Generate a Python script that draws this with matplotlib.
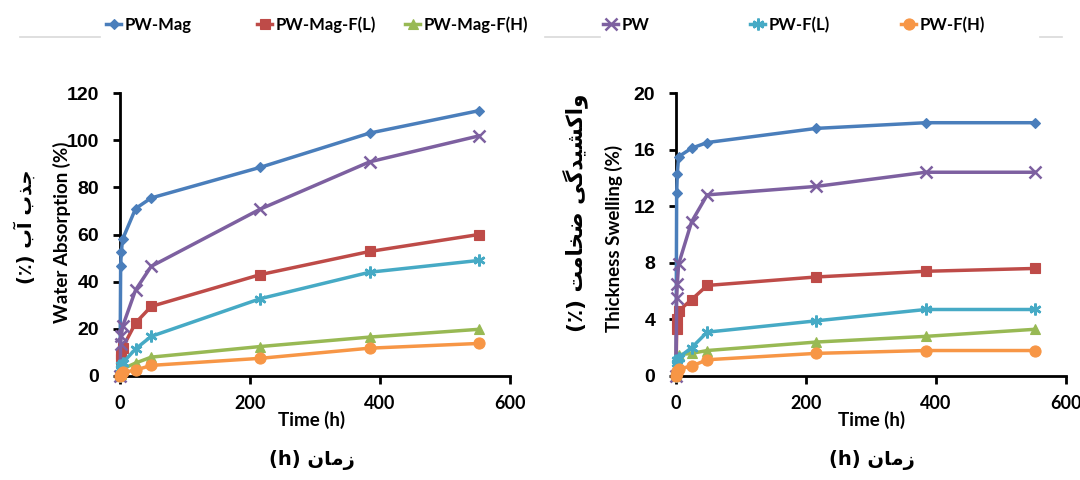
import numpy as np
import matplotlib
matplotlib.use("Agg")
import matplotlib.pyplot as plt
from matplotlib.lines import Line2D

# data
times = [0, 1, 2, 4, 24, 48, 216, 384, 552]
series_names = ["PW-Mag", "PW-Mag-F(L)", "PW-Mag-F(H)", "PW", "PW-F(L)", "PW-F(H)"]

# water absorption (%)
wa_pw_mag = [0, 46.8, 52.5, 58.0, 71.0, 75.5, 88.5, 103.0, 112.5]
wa_pw_mag_fl = [0, 7.0, 9.5, 12.0, 22.5, 29.5, 43.0, 52.8, 60.0]
wa_pw_mag_fh = [0, 1.0, 2.0, 3.0, 5.5, 8.0, 12.5, 16.5, 19.8]
wa_pw = [0, 13.5, 17.0, 21.0, 36.5, 46.5, 70.8, 90.8, 101.8]
wa_pw_fl = [0, 3.5, 4.5, 5.5, 11.5, 16.8, 32.8, 44.0, 49.0]
wa_pw_fh = [0, 0.5, 1.0, 1.5, 2.5, 4.5, 7.5, 11.8, 13.8]

# thickness swelling (%)
ts_pw_mag = [0, 12.9, 14.3, 15.5, 16.1, 16.5, 17.5, 17.9, 17.9]
ts_pw_mag_fl = [0, 3.3, 4.0, 4.6, 5.4, 6.4, 7.0, 7.4, 7.6]
ts_pw_mag_fh = [0, 1.3, 1.4, 1.5, 1.6, 1.8, 2.4, 2.8, 3.3]
ts_pw = [0, 5.5, 6.5, 7.9, 10.9, 12.8, 13.4, 14.4, 14.4]
ts_pw_fl = [0, 0.9, 1.1, 1.3, 2.0, 3.1, 3.9, 4.7, 4.7]
ts_pw_fh = [0, 0.2, 0.35, 0.5, 0.7, 1.15, 1.6, 1.8, 1.8]

wa_ticks = [0, 20, 40, 60, 80, 100, 120]
ts_ticks = [0, 4, 8, 12, 16, 20]
time_ticks = [0, 200, 400, 600]

# excel 2007 palette and markers
colors = ["#4A7EBB", "#BE4B48", "#98B954", "#7D60A0", "#46AAC5", "#F79646"]
markers = ["D", "s", "^", "x", (6, 2, 0), "o"]
msizes = [5.5, 7, 7, 8, 8.5, 8]

# minimal arabic/persian shaping so the labels render joined and right-to-left
FORMS = {
    "\u0627": ("\uFE8D", "\uFE8E", None, None),
    "\u0622": ("\uFE81", "\uFE82", None, None),
    "\u0628": ("\uFE8F", "\uFE90", "\uFE91", "\uFE92"),
    "\u062A": ("\uFE95", "\uFE96", "\uFE97", "\uFE98"),
    "\u062C": ("\uFE9D", "\uFE9E", "\uFE9F", "\uFEA0"),
    "\u062E": ("\uFEA5", "\uFEA6", "\uFEA7", "\uFEA8"),
    "\u062F": ("\uFEA9", "\uFEAA", None, None),
    "\u0630": ("\uFEAB", "\uFEAC", None, None),
    "\u0632": ("\uFEAF", "\uFEB0", None, None),
    "\u0634": ("\uFEB5", "\uFEB6", "\uFEB7", "\uFEB8"),
    "\u0636": ("\uFEBD", "\uFEBE", "\uFEBF", "\uFEC0"),
    "\u0645": ("\uFEE1", "\uFEE2", "\uFEE3", "\uFEE4"),
    "\u0646": ("\uFEE5", "\uFEE6", "\uFEE7", "\uFEE8"),
    "\u0648": ("\uFEED", "\uFEEE", None, None),
    "\u06A9": ("\uFB8E", "\uFB8F", "\uFB90", "\uFB91"),
    "\u06AF": ("\uFB92", "\uFB93", "\uFB94", "\uFB95"),
    "\u06CC": ("\uFBFC", "\uFBFD", "\uFBFE", "\uFBFF"),
}


def rtl(text):
    out = []
    for i, ch in enumerate(text):
        if ch not in FORMS:
            out.append(ch)
            continue
        f = FORMS[ch]
        prev = text[i - 1] if i > 0 else ""
        nxt = text[i + 1] if i + 1 < len(text) else ""
        jp = prev in FORMS and FORMS[prev][2] is not None
        jn = nxt in FORMS and f[2] is not None
        if jp and jn:
            out.append(f[3])
        elif jp:
            out.append(f[1])
        elif jn:
            out.append(f[2])
        else:
            out.append(f[0])
    return "".join(reversed(out)).translate(str.maketrans("()", ")("))


fa_wa = "جذب آب (٪)"
fa_ts = "واکشیدگی ضخامت (٪)"
fa_time = "زمان (h)"

LAT = ["Lato", "Liberation Sans", "DejaVu Sans"]
NUM = ["Liberation Sans", "DejaVu Sans"]
FA = ["DejaVu Sans"]

fig = plt.figure(figsize=(10.8, 4.8), dpi=100)
W, H = 1080.0, 480.0
ax1 = fig.add_axes([120 / W, 1 - 376 / H, 390 / W, 283 / H])
ax2 = fig.add_axes([676 / W, 1 - 376 / H, 390 / W, 283 / H])

wa = [wa_pw_mag, wa_pw_mag_fl, wa_pw_mag_fh, wa_pw, wa_pw_fl, wa_pw_fh]
ts = [ts_pw_mag, ts_pw_mag_fl, ts_pw_mag_fh, ts_pw, ts_pw_fl, ts_pw_fh]

for ax, data, yt in [(ax1, wa, wa_ticks), (ax2, ts, ts_ticks)]:
    for vals, c, m, ms in zip(data, colors, markers, msizes):
        ax.plot(times, vals, color=c, lw=2.5, marker=m, ms=ms,
                mew=1.8 if m in ("x", (6, 2, 0)) else 0.8, mec=c, mfc=c,
                clip_on=False, zorder=3)
    ax.set_xlim(0, 600)
    ax.set_ylim(yt[0], yt[-1])
    ax.set_xticks(time_ticks)
    ax.set_yticks(yt)
    for s in ["top", "right"]:
        ax.spines[s].set_visible(False)
    for s in ["left", "bottom"]:
        ax.spines[s].set_linewidth(2)
        ax.spines[s].set_color("black")
    ax.tick_params(axis="y", direction="out", length=5, width=2, pad=10)
    ax.tick_params(axis="x", direction="out", length=6, width=2, pad=8)
    for lab in ax.get_yticklabels():
        lab.set_fontfamily(NUM)
        lab.set_fontweight("bold")
        lab.set_fontsize(14)
    for lab in ax.get_xticklabels():
        lab.set_fontfamily(LAT)
        lab.set_fontweight("bold")
        lab.set_fontsize(13)

# axis titles
fig.text(62 / W, 1 - 232 / H, "Water Absorption (%)", rotation=90, ha="center",
         va="center", fontsize=13.5, fontweight="bold", family=LAT)
fig.text(25 / W, 1 - 227 / H, rtl(fa_wa), rotation=90, ha="center",
         va="center", fontsize=14, fontweight="bold", family=FA)
fig.text(614 / W, 1 - 238 / H, "Thickness Swelling (%)", rotation=90, ha="center",
         va="center", fontsize=13.5, fontweight="bold", family=LAT)
fig.text(575 / W, 1 - 213 / H, rtl(fa_ts), rotation=90, ha="center",
         va="center", fontsize=15.5, fontweight="bold", family=FA)
for cx in (312, 872):
    fig.text(cx / W, 1 - 420 / H, "Time (h)", ha="center", va="center",
             fontsize=13.5, fontweight="bold", family=LAT)
    fig.text(cx / W, 1 - 460 / H, rtl(fa_time), ha="center", va="center",
             fontsize=14, fontweight="bold", family=FA)

# legend, one slot per series like the excel strip on top
legend_x = [114, 265, 413, 611, 758, 909]
for name, c, m, ms, lx in zip(series_names, colors, markers, msizes, legend_x):
    h = Line2D([], [], color=c, lw=2.5, marker=m, ms=ms, mec=c, mfc=c,
               mew=1.8 if m in ("x", (6, 2, 0)) else 0.8)
    fig.legend([h], [name], loc="center left",
               bbox_to_anchor=((lx - 8) / W, 1 - 25 / H), frameon=False,
               handlelength=0.9, handletextpad=0.2, borderpad=0,
               borderaxespad=0, prop={"family": LAT, "weight": "bold", "size": 12})

# faint grey strips left from the original legend frame
for x0, x1 in [(20, 100), (545, 600), (1040, 1062)]:
    fig.add_artist(Line2D([x0 / W, x1 / W], [1 - 37 / H, 1 - 37 / H],
                          color="#d9d9d9", lw=1.2, transform=fig.transFigure))

fig.savefig("out.png", dpi=100)
